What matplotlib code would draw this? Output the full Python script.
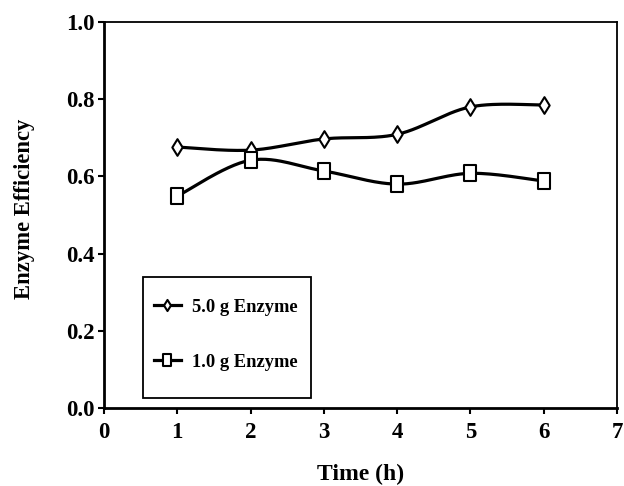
import matplotlib.pyplot as plt
import numpy as np
from matplotlib.path import Path
from matplotlib.patches import Rectangle

plt.rcParams['font.family'] = ['Liberation Serif', 'DejaVu Serif']
plt.rcParams['font.weight'] = 'bold'

# Data
time_h = [1, 2, 3, 4, 5, 6]
eff_5g = [0.676, 0.668, 0.697, 0.709, 0.780, 0.785]
eff_1g = [0.549, 0.642, 0.614, 0.580, 0.608, 0.588]
labels = ['5.0 g Enzyme', '1.0 g Enzyme']


def smooth(x, y, n=30):
    # Catmull-Rom style smoothing, like a spreadsheet "smoothed line"
    x = np.asarray(x, float)
    y = np.asarray(y, float)
    px = np.concatenate([[x[0]], x, [x[-1]]])
    py = np.concatenate([[y[0]], y, [y[-1]]])
    xs, ys = [], []
    t = np.linspace(0, 1, n)
    for i in range(1, len(px) - 2):
        p0, p1, p2, p3 = (np.array([px[j], py[j]]) for j in range(i - 1, i + 3))
        c1 = p1 + (p2 - p0) / 6
        c2 = p2 - (p3 - p1) / 6
        b = ((1 - t) ** 3)[:, None] * p1 + (3 * (1 - t) ** 2 * t)[:, None] * c1 \
            + (3 * (1 - t) * t ** 2)[:, None] * c2 + (t ** 3)[:, None] * p2
        xs.extend(b[:, 0])
        ys.extend(b[:, 1])
    return np.array(xs), np.array(ys)


diamond = Path([(0, -0.5), (0.31, 0), (0, 0.5), (-0.31, 0), (0, -0.5)],
               [Path.MOVETO, Path.LINETO, Path.LINETO, Path.LINETO, Path.CLOSEPOLY])
rect = Path([(-0.35, -0.5), (0.35, -0.5), (0.35, 0.5), (-0.35, 0.5), (-0.35, -0.5)],
            [Path.MOVETO, Path.LINETO, Path.LINETO, Path.LINETO, Path.CLOSEPOLY])

fig = plt.figure(figsize=(6.24, 4.86), dpi=100)
ax = fig.add_axes([104 / 624, 78 / 486, 513 / 624, 386 / 486])

for y, mk, lab in [(eff_5g, diamond, labels[0]), (eff_1g, rect, labels[1])]:
    sx, sy = smooth(time_h, y)
    ax.plot(sx, sy, color='black', lw=2.3, zorder=2)
    ax.plot(time_h, y, ls='none', marker=mk, ms=12, mfc='white', mec='black',
            mew=1.5, zorder=3)
    ax.plot([], [], color='black', lw=2.3, marker=mk, ms=8, mfc='white',
            mec='black', mew=1.5, label=lab)

ax.set_xlim(0, 7)
ax.set_ylim(0, 1.0)
ax.set_xticks(range(0, 8))
ax.set_yticks(np.arange(0, 1.01, 0.2))
ax.set_yticklabels([f'{v:.1f}' for v in np.arange(0, 1.01, 0.2)])
ax.tick_params(axis='both', direction='out', length=4, width=1.5,
               labelsize=16.5)
ax.tick_params(axis='x', pad=6)
ax.tick_params(axis='y', pad=3)
for s in ['left', 'bottom']:
    ax.spines[s].set_linewidth(2)
for s in ['top', 'right']:
    ax.spines[s].set_linewidth(1.3)

ax.set_xlabel('Time (h)', fontsize=17, fontweight='bold', labelpad=15)
ax.set_ylabel('Enzyme Efficiency', fontsize=16.3, fontweight='bold')
ax.yaxis.set_label_coords(-0.134, 0.516)

# legend frame drawn separately so its padding can follow the original
ax.add_patch(Rectangle((0.076, 0.026), 0.327, 0.313, transform=ax.transAxes,
                       fill=True, facecolor='white', edgecolor='black',
                       lw=1.3, zorder=4))
leg = ax.legend(loc='upper left', bbox_to_anchor=(0.097, 0.283), frameon=False,
                fontsize=13.3, handlelength=1.46, labelspacing=2.05,
                borderpad=0, handletextpad=0.6, borderaxespad=0)
leg.set_zorder(5)
for t in leg.get_texts():
    t.set_fontweight('bold')

fig.savefig('out.png', dpi=100)
